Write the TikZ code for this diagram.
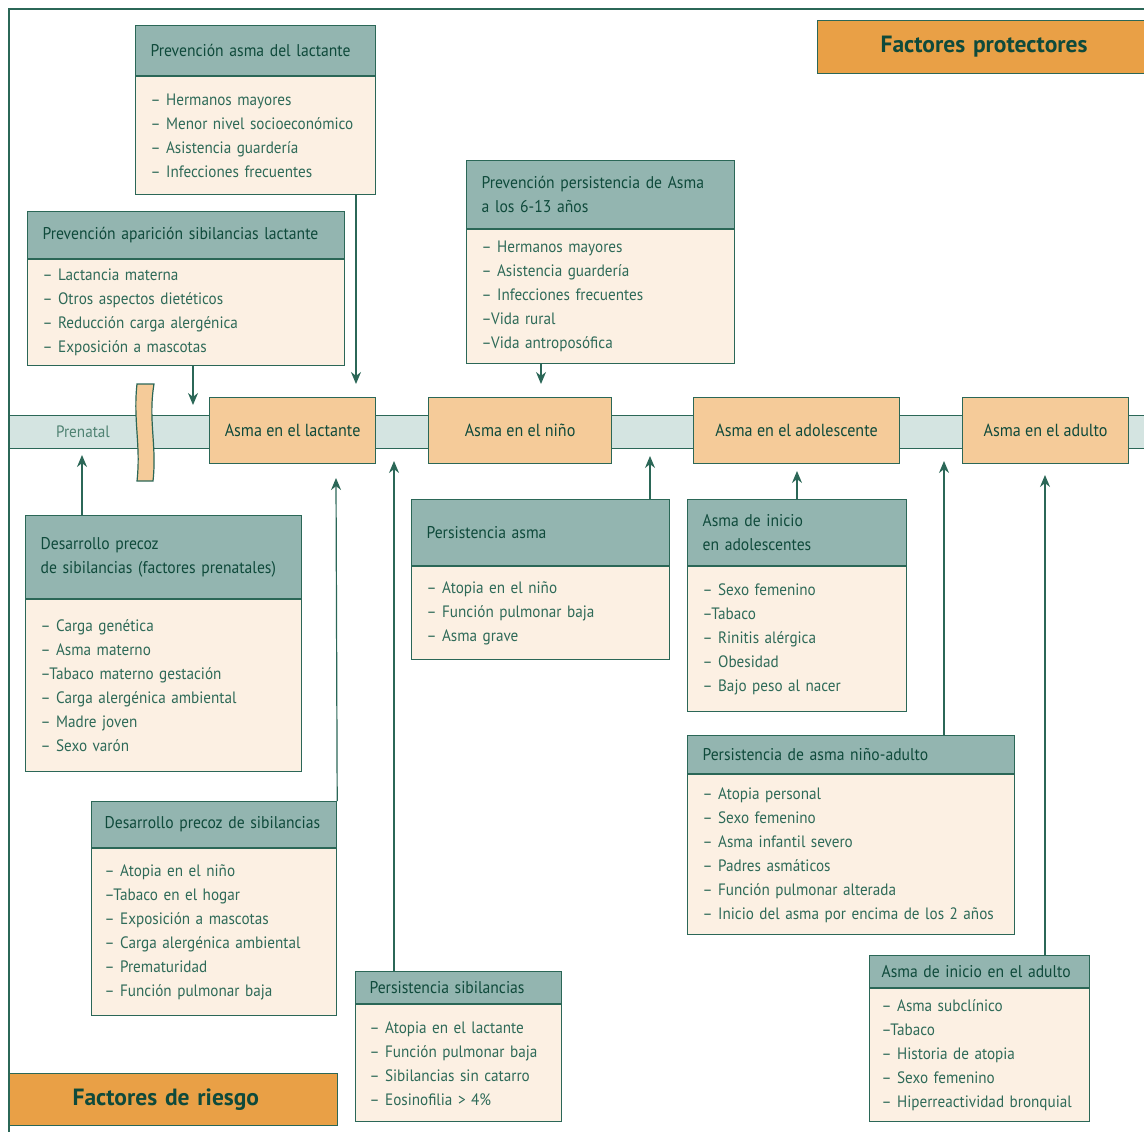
\documentclass[tikz,border=0pt]{standalone}
\usepackage{fontspec}
\setmainfont{PT Sans}[FakeStretch=0.92]
\newfontfamily\titlefont{PT Sans}
\usetikzlibrary{positioning,arrows.meta}
\hyphenpenalty=10000
\exhyphenpenalty=10000

\definecolor{edgec}{HTML}{2B6757}
\definecolor{dkgreen}{HTML}{0F4A3B}
\definecolor{bodytxt}{HTML}{2E6A58}
\definecolor{headc}{HTML}{93B5B0}
\definecolor{bodyc}{HTML}{FCF0E3}
\definecolor{bandc}{HTML}{D4E4E1}
\definecolor{stagec}{HTML}{F5CB99}
\definecolor{titlec}{HTML}{E9A046}
\definecolor{prenc}{HTML}{4F8272}

\begin{document}
\begin{tikzpicture}[x=1pt,y=-1pt,line width=1.2pt,
        every node/.style={font=\fontsize{16.5}{24}\selectfont, inner ysep=0pt},
        head/.style={draw=edgec, fill=headc, text=dkgreen, anchor=north west, align=left, inner xsep=15pt,
          font=\fontsize{17}{24}\selectfont},
        body/.style={draw=edgec, fill=bodyc, text=bodytxt, align=left, inner xsep=15pt},
        stage/.style={draw=edgec, fill=stagec, text=dkgreen, anchor=north west, minimum height=66pt, inner xsep=0pt,
          font=\fontsize{17.5}{24}\selectfont},
        title/.style={draw=edgec, fill=titlec, text=dkgreen, anchor=north west, align=left, inner xsep=0pt,
          text width=328pt, font=\fontsize{23.5}{26}\titlefont\bfseries},
        arr/.style={draw=edgec, -{Stealth[length=12pt,width=10pt]}}]

        \useasboundingbox (0,0) rectangle (1144,1132);

        % frame and time line
        \draw[edgec] (1150,9) -- (9,9) -- (9,1140);
        \node[draw=edgec, fill=bandc, anchor=north west, minimum width=1141pt, minimum height=33pt] (band) at (9,415) {};
        \node[text=prenc] (pren) at (83,432) {Prenatal};
        \filldraw[draw=edgec, fill=stagec] (137,384) .. controls (133,420) and (141,445) .. (137,481)
          -- (153,481) .. controls (157,445) and (148,420) .. (154,384) -- cycle;

        \node[stage, minimum width=166pt] (lac) at (209,397) {Asma en el lactante};
        \node[stage, minimum width=183pt] (nin) at (428,397) {Asma en el niño};
        \node[stage, minimum width=206pt] (ado) at (693,397) {Asma en el adolescente};
        \node[stage, minimum width=166pt] (adu) at (962,397) {Asma en el adulto};

        \node[title, minimum height=53pt] (prot) at (817,20) {\hspace*{63pt}Factores protectores};
        \node[title, minimum height=52pt] (ries) at (9,1073) {\hspace*{63pt}Factores de riesgo};

        % protectores
        \node[head, text width=210pt, minimum height=50pt] (palh) at (135,25) {Prevención asma del lactante};
        \node[body, text width=210pt, minimum height=118pt, below=0pt of palh] (palb)
          {– Hermanos mayores\\– Menor nivel socioeconómico\\– Asistencia guardería\\– Infecciones frecuentes};

        \node[head, text width=287pt, minimum height=47pt] (pash) at (27,211) {Prevención aparición sibilancias lactante};
        \node[body, text width=287pt, minimum height=106pt, below=0pt of pash] (pasb)
          {– Lactancia materna\\– Otros aspectos dietéticos\\– Reducción carga alergénica\\– Exposición a mascotas};

        \node[head, text width=238pt, minimum height=68pt] (ppah) at (466,160) {Prevención persistencia de Asma\\a los 6-13 años};
        \node[body, text width=238pt, minimum height=134pt, below=0pt of ppah] (ppab)
          {– Hermanos mayores\\– Asistencia guardería\\– Infecciones frecuentes\\–Vida rural\\–Vida antroposófica};

        % riesgo
        \node[head, text width=246pt, minimum height=83pt] (dpph) at (25,515) {Desarrollo precoz\\de sibilancias (factores prenatales)};
        \node[body, text width=246pt, minimum height=172pt, below=0pt of dpph] (dppb)
          {– Carga genética\\– Asma materno\\–Tabaco materno gestación\\– Carga alergénica ambiental\\– Madre joven\\– Sexo varón};

        \node[head, text width=219pt, inner xsep=13pt, minimum height=46pt] (dpsh) at (91,801) {Desarrollo precoz de sibilancias};
        \node[body, text width=219pt, inner xsep=13pt, minimum height=167pt, below=0pt of dpsh] (dpsb)
          {– Atopia en el niño\\–Tabaco en el hogar\\– Exposición a mascotas\\– Carga alergénica ambiental\\– Prematuridad\\– Función pulmonar baja};

        \node[head, text width=178pt, inner xsep=14pt, minimum height=32pt] (psh) at (355,971) {Persistencia sibilancias};
        \node[body, text width=178pt, inner xsep=14pt, minimum height=117pt, below=0pt of psh] (psb)
          {– Atopia en el lactante\\– Función pulmonar baja\\– Sibilancias sin catarro\\– Eosinofilia > 4\%};

        \node[head, text width=228pt, minimum height=66pt] (pah) at (411,499) {Persistencia asma};
        \node[body, text width=228pt, minimum height=93pt, below=0pt of pah] (pab)
          {– Atopia en el niño\\– Función pulmonar baja\\– Asma grave};

        \node[head, text width=189pt, minimum height=66pt] (aiah) at (687,499) {Asma de inicio\\en adolescentes};
        \node[body, text width=189pt, minimum height=145pt, below=0pt of aiah] (aiab)
          {– Sexo femenino\\–Tabaco\\– Rinitis alérgica\\– Obesidad\\– Bajo peso al nacer};

        \node[head, text width=297pt, minimum height=38pt] (pnah) at (687,735) {Persistencia de asma niño-adulto};
        \node[body, text width=297pt, minimum height=160pt, below=0pt of pnah] (pnab)
          {– Atopia personal\\– Sexo femenino\\– Asma infantil severo\\– Padres asmáticos\\– Función pulmonar alterada\\– Inicio del asma por encima de los 2 años};

        \node[head, text width=196pt, inner xsep=12pt, minimum height=32pt] (adh) at (869,955) {Asma de inicio en el adulto};
        \node[body, text width=196pt, inner xsep=12pt, minimum height=133pt, below=0pt of adh] (adb)
          {– Asma subclínico\\–Tabaco\\– Historia de atopia\\– Sexo femenino\\– Hiperreactividad bronquial};

        % arrow tips
        \coordinate (tpal) at (356,384);
        \coordinate (tpas) at (193,405);
        \coordinate (tppa) at (541,384);
        \coordinate (tdpp) at (82,455);
        \coordinate (tdps) at (336,478);
        \coordinate (tps) at (394,461);
        \coordinate (tpa) at (650,456);
        \coordinate (taia) at (797,471);
        \coordinate (tpna) at (944,461);
        \coordinate (tad) at (1045,475);

        \draw[arr] (palb.south -| tpal) -- (tpal);
        \draw[arr] (pasb.south -| tpas) -- (tpas);
        \draw[arr] (ppab.south -| tppa) -- (tppa);
        \draw[arr] (dpph.north -| tdpp) -- (tdpp);
        \draw[arr] (dpsh.north east) -- (tdps);
        \draw[arr] (psh.north -| tps) -- (tps);
        \draw[arr] (pah.north -| tpa) -- (tpa);
        \draw[arr] (aiah.north -| taia) -- (taia);
        \draw[arr] (pnah.north -| tpna) -- (tpna);
        \draw[arr] (adh.north -| tad) -- (tad);

\end{tikzpicture}
\end{document}
